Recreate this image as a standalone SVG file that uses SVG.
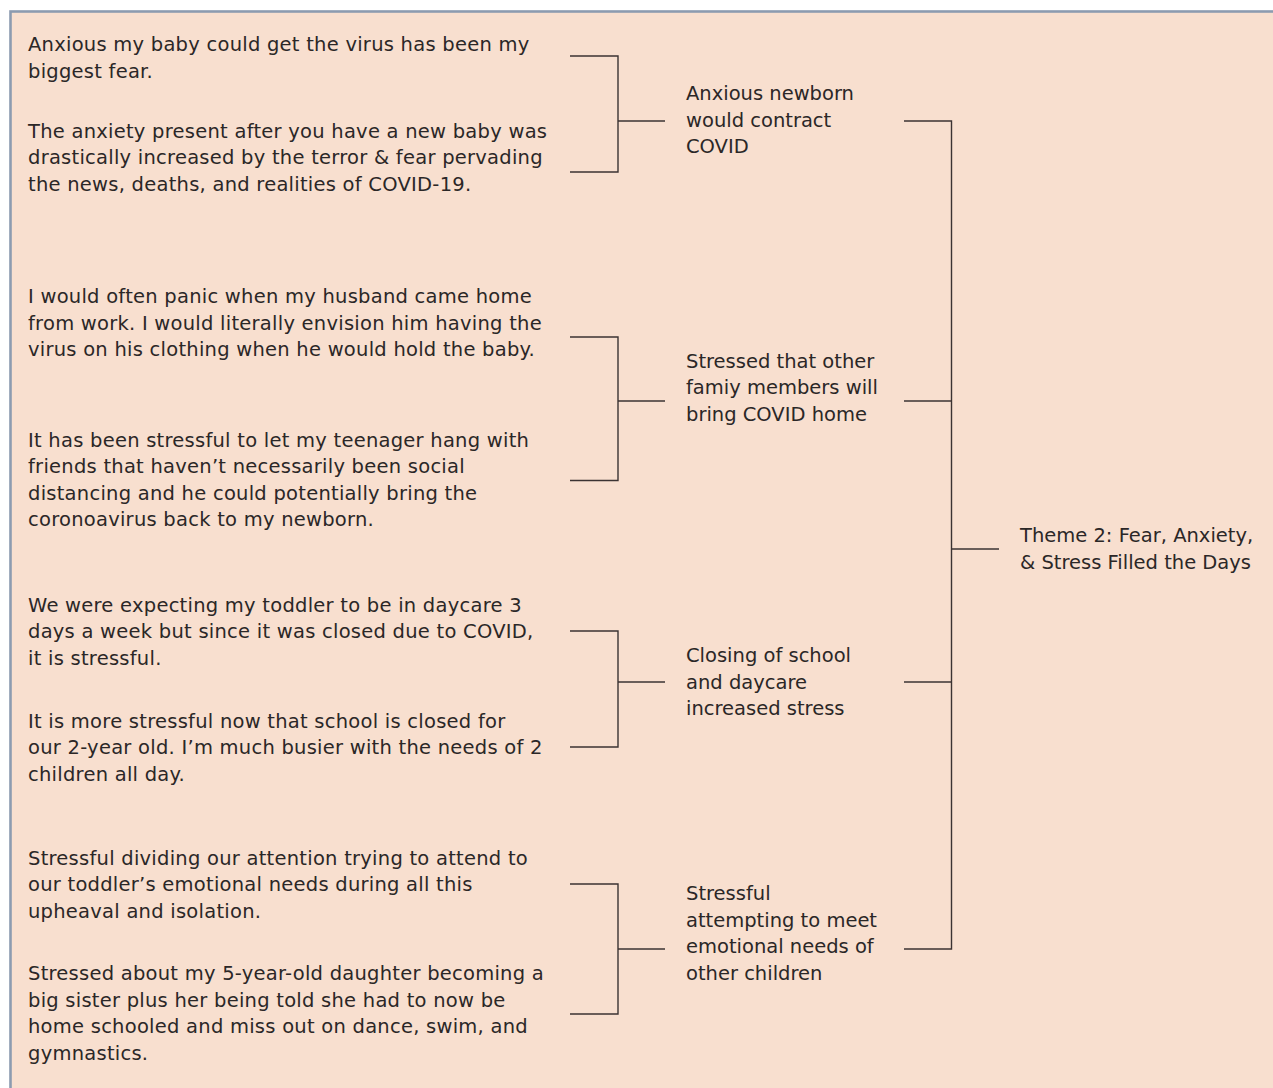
<svg xmlns="http://www.w3.org/2000/svg" width="1273" height="1088" viewBox="0 0 1273 1088">
<style>
text{font-family:"DejaVu Sans","Liberation Sans",sans-serif;font-size:19.5px;fill:#2b2727}
.q text{letter-spacing:0.25px}
.c line,.c polyline{stroke:#3b3333;stroke-width:1.4;fill:none}
</style>
<rect x="10.5" y="11.5" width="1280" height="1100" fill="#f8dfcf" stroke="#8c9bb0" stroke-width="2.6"/>
<g id="quotes1" class="q">
<text x="28" y="51">Anxious my baby could get the virus has been my</text>
<text x="28" y="77.5">biggest fear.</text>
<text x="28" y="137.5">The anxiety present after you have a new baby was</text>
<text x="28" y="164">drastically increased by the terror &amp; fear pervading</text>
<text x="28" y="190.5">the news, deaths, and realities of COVID-19.</text>
</g>
<g id="quotes2" class="q">
<text x="28" y="303">I would often panic when my husband came home</text>
<text x="28" y="329.5">from work. I would literally envision him having the</text>
<text x="28" y="356">virus on his clothing when he would hold the baby.</text>
<text x="28" y="446.5">It has been stressful to let my teenager hang with</text>
<text x="28" y="473">friends that haven’t necessarily been social</text>
<text x="28" y="499.5">distancing and he could potentially bring the</text>
<text x="28" y="526">coronoavirus back to my newborn.</text>
</g>
<g id="quotes3" class="q">
<text x="28" y="611.5">We were expecting my toddler to be in daycare 3</text>
<text x="28" y="638">days a week but since it was closed due to COVID,</text>
<text x="28" y="664.5">it is stressful.</text>
<text x="28" y="727.5">It is more stressful now that school is closed for</text>
<text x="28" y="754">our 2-year old. I’m much busier with the needs of 2</text>
<text x="28" y="780.5">children all day.</text>
</g>
<g id="quotes4" class="q">
<text x="28" y="864.5">Stressful dividing our attention trying to attend to</text>
<text x="28" y="891">our toddler’s emotional needs during all this</text>
<text x="28" y="917.5">upheaval and isolation.</text>
<text x="28" y="980">Stressed about my 5-year-old daughter becoming a</text>
<text x="28" y="1006.5">big sister plus her being told she had to now be</text>
<text x="28" y="1033">home schooled and miss out on dance, swim, and</text>
<text x="28" y="1059.5">gymnastics.</text>
</g>
<g id="sub1">
<text x="686" y="100">Anxious newborn</text>
<text x="686" y="126.5">would contract</text>
<text x="686" y="153">COVID</text>
</g>
<g id="sub2">
<text x="686" y="367.5">Stressed that other</text>
<text x="686" y="394">famiy members will</text>
<text x="686" y="420.5">bring COVID home</text>
</g>
<g id="sub3">
<text x="686" y="662">Closing of school</text>
<text x="686" y="688.5">and daycare</text>
<text x="686" y="715">increased stress</text>
</g>
<g id="sub4">
<text x="686" y="900">Stressful</text>
<text x="686" y="926.5">attempting to meet</text>
<text x="686" y="953">emotional needs of</text>
<text x="686" y="979.5">other children</text>
</g>
<g id="theme">
<text x="1020" y="542">Theme 2: Fear, Anxiety,</text>
<text x="1020" y="568.5">&amp; Stress Filled the Days</text>
</g>
<g id="connectors" class="c">
<polyline points="570,56 618,56 618,172 570,172"/>
<line x1="618" y1="121" x2="665" y2="121"/>
<polyline points="570,337 618,337 618,480.5 570,480.5"/>
<line x1="618" y1="401" x2="665" y2="401"/>
<polyline points="570,631 618,631 618,747 570,747"/>
<line x1="618" y1="682" x2="665" y2="682"/>
<polyline points="570,884 618,884 618,1014 570,1014"/>
<line x1="618" y1="949" x2="665" y2="949"/>
<polyline points="904,121 951.5,121 951.5,949 904,949"/>
<line x1="904" y1="401" x2="951.5" y2="401"/>
<line x1="904" y1="682" x2="951.5" y2="682"/>
<line x1="951.5" y1="549" x2="999" y2="549"/>
</g>
</svg>
